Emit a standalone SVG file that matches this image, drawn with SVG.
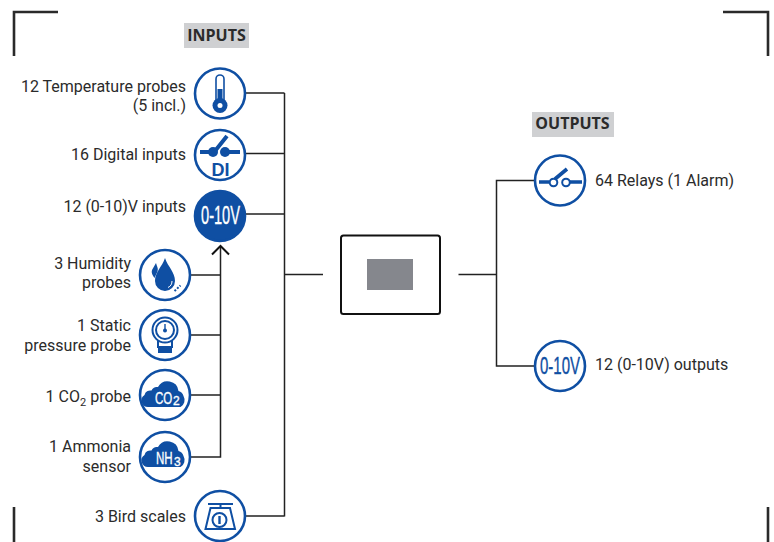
<svg xmlns="http://www.w3.org/2000/svg" width="774" height="542" viewBox="0 0 774 542">
<defs>
<style>
.lbl{font-family:Roboto,"Liberation Sans",sans-serif;font-size:16px;fill:#2b2b2b}
.end{text-anchor:end}
.hd{font-family:"Open Sans","Liberation Sans",sans-serif;font-size:16px;font-weight:700;fill:#2b2b2b;text-anchor:middle}
.hbg{fill:#cfd0d2}
.ring{fill:#fff;stroke:#0f4fa3;stroke-width:2.6}
.solid{fill:#0f4fa3;stroke:#0f4fa3;stroke-width:2.6}
.ln{fill:none;stroke:#0f4fa3;stroke-width:2}
.fb{fill:#0f4fa3}
.ic{font-family:"Liberation Sans",Roboto,sans-serif;fill:#fff;stroke:#fff;stroke-width:.35;text-anchor:start}
.icb{font-family:"Liberation Sans",Roboto,sans-serif;fill:#0f4fa3;text-anchor:middle}
.c{fill:none;stroke:#222;stroke-width:1.500}
.crn{fill:none;stroke:#2a2a2a;stroke-width:2.600}
</style>
<path id="cloud" d="M148 28a6.500 6.500 0 0 1-3.500-12a6 6 0 0 1 7-4.500a6 6 0 0 1 6.500-3.500a11 11 0 0 1 20.500 4a7 7 0 0 1 5 5a8 8 0 0 1-3 11Z"/>
</defs>
<rect width="774" height="542" fill="#fff"/>
<g id="frame">
<path class="crn" d="M14 56V12H58"/>
<path class="crn" d="M723 12H768V56"/>
<path class="crn" d="M14 507V542"/>
<path class="crn" d="M768 507V542"/>
</g>
<g id="connectors">
<path class="c" d="M246 93H284.500M246 153.500H284.500M246 214H284.500M246 516H284.500M284.500 93V516.500M284.500 274.500H323"/>
<path class="c" d="M190 275H220.500M190 335H220.500M190 395H220.500M190 457H220.500V246"/>
<path d="M212 254.500L220.500 246L229 254.500" fill="none" stroke="#111" stroke-width="2"/>
<path class="c" d="M458.500 274.500H496.500M534 180.500H496.500V366H534"/>
</g>
<g id="inputs-title"><rect class="hbg" x="184" y="23" width="65" height="25"/><text class="hd" x="216.500" y="41">INPUTS</text></g>
<g id="outputs-title"><rect class="hbg" x="532" y="112" width="82" height="25"/><text class="hd" x="572.500" y="129">OUTPUTS</text></g>
<g id="temperature">
<text class="lbl end" x="186" y="91.500">12 Temperature probes</text>
<text class="lbl end" x="186" y="110.500">(5 incl.)</text>
<circle class="ring" cx="220" cy="93.500" r="25"/>
<path d="M216 100V79a4 4 0 0 1 8 0V100" fill="#fff" stroke="#0f4fa3" stroke-width="1.600"/>
<path class="fb" d="M217.500 89H222.500V100H217.500Z"/>
<circle class="fb" cx="220" cy="105.500" r="7.500"/>
<circle cx="220" cy="105.500" r="2.500" fill="#fff"/>
</g>
<g id="digital">
<text class="lbl end" x="186" y="159.500">16 Digital inputs</text>
<circle class="ring" cx="220" cy="155" r="25"/>
<path d="M200 152H212M226 152H240M215 151L227 136" fill="none" stroke="#0f4fa3" stroke-width="4"/>
<circle class="fb" cx="213" cy="152" r="5"/><circle class="fb" cx="225" cy="152" r="5"/>
<text class="icb" x="220.500" y="175.500" font-size="18" font-weight="700">DI</text>
</g>
<g id="analog-in">
<text class="lbl end" x="186" y="212">12 (0-10)V inputs</text>
<circle class="solid" cx="220" cy="216" r="25"/>
<text class="ic" x="201" y="224" font-size="25" textLength="39" lengthAdjust="spacingAndGlyphs">0-10V</text>
</g>
<g id="humidity">
<text class="lbl end" x="131" y="268.500">3 Humidity</text>
<text class="lbl end" x="131" y="287.500">probes</text>
<circle class="ring" cx="165" cy="275" r="25"/>
<path class="fb" d="M165 258C168 267 175 272 175 281a10 10 0 0 1-20 0C155 272 162 267 165 258Z"/>
<path class="fb" d="M156 263C157 267 158.500 268 157.500 271.500L154.500 278C152.500 275 151 273 152 270Z"/>
<path d="M172 281a7 7 0 0 1-4 6.500" fill="none" stroke="#fff" stroke-width="1"/>
<path d="M174.500 291L180.500 285.500" stroke="#0f4fa3" stroke-width="2" stroke-dasharray="2 1.500" fill="none"/>
</g>
<g id="pressure">
<text class="lbl end" x="131" y="330.500">1 Static</text>
<text class="lbl end" x="131" y="350.500">pressure probe</text>
<circle class="ring" cx="165" cy="335" r="25"/>
<circle class="ln" cx="165" cy="330" r="12.500"/><circle class="ln" cx="165" cy="330" r="9"/>
<path d="M165 324V330" stroke="#0f4fa3" stroke-width="1.400"/><circle class="fb" cx="165" cy="330.500" r="2"/>
<path class="ln" d="M158 340V347H172V340"/>
<rect class="fb" x="158" y="348" width="14" height="5"/>
</g>
<g id="co2">
<text class="lbl end" x="131" y="401.500">1 CO<tspan font-size="11" dy="4">2</tspan><tspan dy="-4"> probe</tspan></text>
<circle class="ring" cx="165" cy="395" r="25"/>
<use href="#cloud" class="fb" y="379"/>
<text class="ic" transform="translate(155 404) scale(.68 1)" font-size="17">CO</text>
<text class="ic" x="173" y="405" font-size="12">2</text>
</g>
<g id="nh3">
<text class="lbl end" x="131" y="451.500">1 Ammonia</text>
<text class="lbl end" x="131" y="471.500">sensor</text>
<circle class="ring" cx="165" cy="457" r="25"/>
<use href="#cloud" class="fb" y="439"/>
<text class="ic" transform="translate(156 464) scale(.68 1)" font-size="17">NH</text>
<text class="ic" x="174" y="466" font-size="12">3</text>
</g>
<g id="scales">
<text class="lbl end" x="186" y="522">3 Bird scales</text>
<circle class="ring" cx="220" cy="516" r="25"/>
<path class="ln" d="M208 504H233M220.500 504V508M210.500 508H230L235 529H205.500Z"/>
<circle class="ln" cx="219.500" cy="520" r="7"/>
<path d="M219.500 516V524" stroke="#0f4fa3" stroke-width="2.400"/>
</g>
<g id="controller">
<rect x="341" y="235.500" width="99" height="78.500" rx="2.500" fill="#fff" stroke="#111" stroke-width="2"/>
<rect x="367" y="259" width="46" height="31" fill="#85878d"/>
</g>
<g id="relays">
<circle class="ring" cx="560" cy="180.500" r="25"/>
<path d="M539 182H549M570 182H582M555 179L567 169" fill="none" stroke="#0f4fa3" stroke-width="3.600"/>
<circle cx="553.500" cy="182.500" r="3.800" fill="#fff" stroke="#0f4fa3" stroke-width="2"/>
<circle cx="566" cy="182.500" r="3.800" fill="#fff" stroke="#0f4fa3" stroke-width="2"/>
<text class="lbl" x="595" y="186">64 Relays (1 Alarm)</text>
</g>
<g id="analog-out">
<circle class="ring" cx="560" cy="366" r="25"/>
<text class="icb" x="560" y="374" font-size="24" stroke="#0f4fa3" stroke-width=".35" textLength="40" lengthAdjust="spacingAndGlyphs">0-10V</text>
<text class="lbl" x="595" y="370">12 (0-10V) outputs</text>
</g>
</svg>
